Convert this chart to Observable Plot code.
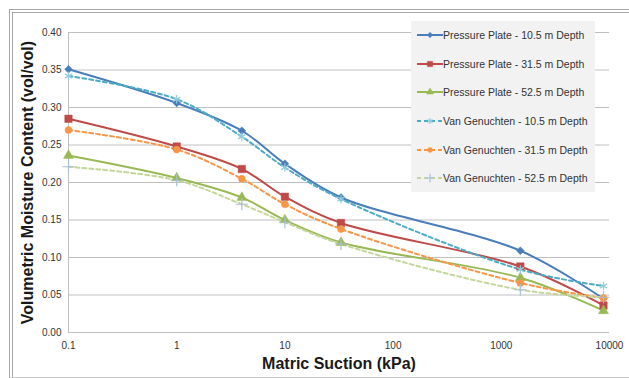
<!DOCTYPE html>
<html><head><meta charset="utf-8">
<script src="https://cdn.jsdelivr.net/npm/d3@7"></script>
<script src="https://cdn.jsdelivr.net/npm/@observablehq/plot@0.6"></script>
<style>
body{margin:0;background:#fff;font-family:"Liberation Sans",Arial,sans-serif}
#wrap{position:relative;width:629px;height:378px;overflow:hidden;background:#fff}
#frame{position:absolute;left:9px;top:9px;width:640px;height:369px;border-left:4px double #a6a6a6;border-top:4px double #a6a6a6;border-bottom:1px solid #c8c8c8;box-sizing:border-box;pointer-events:none}
#chart{position:absolute;left:0;top:0}
#legend{position:absolute;left:411px;top:21px;width:184px;height:171px;background:#f2f2f2;box-sizing:border-box;padding-top:0px}
.item{display:flex;align-items:center;height:28.6px;font-size:10.5px;color:#333;white-space:nowrap}
.item svg{margin-left:6px;margin-right:0px}
</style></head>
<body>
<div id="wrap"><div id="chart"></div><div id="frame"></div><div id="legend"></div></div>
<script>
// Data
const suction = [0.1, 1, 4, 10, 33, 1500, 8800];
const pp105 = [0.351, 0.306, 0.269, 0.225, 0.180, 0.109, 0.045];
const pp315 = [0.285, 0.248, 0.218, 0.181, 0.146, 0.088, 0.036];
const pp525 = [0.236, 0.206, 0.180, 0.150, 0.120, 0.073, 0.029];
const vg105 = [0.342, 0.311, 0.261, 0.220, 0.178, 0.084, 0.062];
const vg315 = [0.270, 0.244, 0.205, 0.171, 0.138, 0.066, 0.046];
const vg525 = [0.221, 0.203, 0.171, 0.147, 0.118, 0.057, 0.047];
const seriesNames = ["Pressure Plate - 10.5 m Depth","Pressure Plate - 31.5 m Depth","Pressure Plate - 52.5 m Depth","Van Genuchten - 10.5 m Depth","Van Genuchten - 31.5 m Depth","Van Genuchten - 52.5 m Depth"];
const yTicks = [0,0.05,0.1,0.15,0.2,0.25,0.3,0.35,0.4];
const xTicks = [0.1,1,10,100,1000,10000];

const values = [pp105, pp315, pp525, vg105, vg315, vg525];
const styles = [
  {color:"#4a7ebb", marker:"#4a7ebb", dash:null, symbol:"diamond2", d3sym:d3.symbolDiamond2, r:3.5, fill:true},
  {color:"#be4b48", marker:"#be4b48", dash:null, symbol:"square", d3sym:d3.symbolSquare, r:4.2, fill:true},
  {color:"#98b954", marker:"#98b954", dash:null, symbol:"triangle", d3sym:d3.symbolTriangle, r:3.7, fill:true},
  {color:"#4bacc6", marker:"#93cddd", dash:"4,3", symbol:"asterisk", d3sym:d3.symbolAsterisk, r:4.0, fill:false},
  {color:"#f79646", marker:"#f79646", dash:"4,3", symbol:"circle", d3sym:d3.symbolCircle, r:3.5, fill:true},
  {color:"#c4d79b", marker:"#a7bfd9", dash:"4,3", symbol:"plus", d3sym:d3.symbolPlus, r:4.0, fill:false}
];
const rows = [];
seriesNames.forEach((name,i)=>suction.forEach((x,j)=>rows.push({series:name, x, y:values[i][j]})));

const marks = [
  Plot.gridY(yTicks,{stroke:"#c0c0c0",strokeOpacity:1}),
  Plot.ruleX([0.1],{stroke:"#c0c0c0"}),
  Plot.ruleY([0],{stroke:"#c0c0c0"}),
  Plot.axisY({ticks:yTicks, tickSize:0, tickPadding:7, tickFormat:d3.format(".2f"), label:null, fontSize:10, fill:"#333"}),
  Plot.axisX({ticks:xTicks, tickSize:0, tickPadding:9, tickFormat:d=>String(d), label:null, fontSize:10, fill:"#333"}),
  Plot.axisY({ticks:[], tickSize:0, label:"Volumetric Moisture Content (vol/vol)", labelAnchor:"center", labelArrow:"none", labelOffset:47, fontSize:16, fontWeight:"bold", fill:"#1a1a1a"}),
  Plot.axisX({ticks:[], tickSize:0, label:"Matric Suction (kPa)", labelAnchor:"center", labelArrow:"none", labelOffset:36, fontSize:16, fontWeight:"bold", fill:"#1a1a1a"})
];
seriesNames.forEach((name,i)=>{
  const s = styles[i];
  const data = rows.filter(r=>r.series===name);
  marks.push(Plot.line(data,{x:"x",y:"y",stroke:s.color,strokeWidth:2,strokeDasharray:s.dash,curve:"catmull-rom"}));
});
seriesNames.forEach((name,i)=>{
  const s = styles[i];
  const data = rows.filter(r=>r.series===name);
  marks.push(Plot.dot(data,{x:"x",y:"y",symbol:()=>s.symbol,r:s.r,fill:s.fill?s.marker:"none",stroke:s.marker,strokeWidth:s.fill?0.5:1.2}));
});

const chart = Plot.plot({
  width:629, height:378,
  marginLeft:68, marginRight:20, marginTop:32, marginBottom:46,
  style:{fontFamily:"'Liberation Sans', Arial, sans-serif", background:"transparent", overflow:"visible"},
  x:{type:"log", domain:[0.1,10000]},
  y:{domain:[0,0.4]},
  marks
});
document.getElementById("chart").appendChild(chart);

const leg = document.getElementById("legend");
seriesNames.forEach((name,i)=>{
  const s = styles[i];
  const item = document.createElement("div");
  item.className="item";
  const svg = d3.create("svg").attr("width",26).attr("height",12);
  svg.append("line").attr("x1",0).attr("x2",26).attr("y1",6).attr("y2",6)
    .attr("stroke",s.color).attr("stroke-width",2).attr("stroke-dasharray",s.dash);
  svg.append("path").attr("transform","translate(13,6)")
    .attr("d",d3.symbol(s.d3sym, Math.PI*s.r*s.r*0.5)())
    .attr("fill",s.fill?s.marker:"none").attr("stroke",s.marker).attr("stroke-width",s.fill?0.5:1.2);
  item.appendChild(svg.node());
  const t = document.createElement("span");
  t.textContent = name;
  item.appendChild(t);
  leg.appendChild(item);
});
</script>
</body></html>
